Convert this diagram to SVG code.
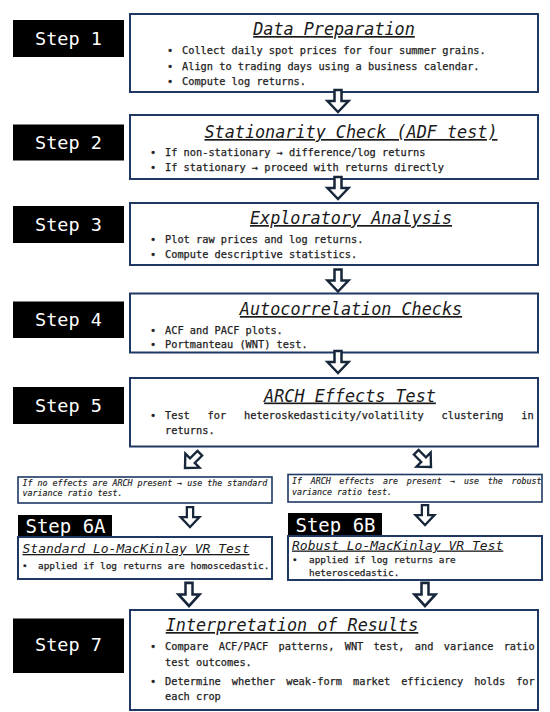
<svg xmlns="http://www.w3.org/2000/svg" xmlns:xlink="http://www.w3.org/1999/xlink" width="550" height="712" viewBox="0 0 550 712">
<style>
.bg{fill:#ffffff}
.box{fill:#ffffff;stroke:#1f3864;stroke-width:2}
.lbl{fill:#000000}
.lt{font-family:"DejaVu Sans Mono","Liberation Mono",monospace;fill:#ffffff;text-anchor:middle}
.ttl{font-family:"DejaVu Sans Mono","Liberation Mono",monospace;font-style:italic;fill:#1a1a1a;text-decoration:underline;font-size:16.8px}
.b{font-family:"DejaVu Sans Mono","Liberation Mono",monospace;fill:#222222;stroke:#222222;stroke-width:0.25;font-size:10.3px}
.sm{font-family:"DejaVu Sans Mono","Liberation Mono",monospace;font-style:italic;fill:#222222;stroke:#222222;stroke-width:0.15;font-size:8.3px}
.arr{fill:#ffffff;stroke:#17263a;stroke-width:2.5;stroke-linejoin:miter}
</style>
<defs>
<path id="arr" d="M -3.5 -22 L 3.5 -22 L 3.5 -11 L 10.5 -11 L 0 0 L -10.5 -11 L -3.5 -11 Z"/>
</defs>
<rect class="bg" x="0" y="0" width="550" height="712"/>

<g id="step1">
<rect class="lbl" x="13" y="20" width="111" height="37"/>
<text class="lt" x="68.5" y="44.5" font-size="18.5">Step 1</text>
<rect class="box" x="130" y="14" width="408" height="78"/>
<text class="ttl" x="334" y="35" text-anchor="middle">Data Preparation</text>
<text class="b" x="167" y="54">•</text><text class="b" x="182" y="54">Collect daily spot prices for four summer grains.</text>
<text class="b" x="167" y="69.5">•</text><text class="b" x="182" y="69.5">Align to trading days using a business calendar.</text>
<text class="b" x="167" y="85">•</text><text class="b" x="182" y="85">Compute log returns.</text>
</g>

<g id="step2">
<rect class="lbl" x="13" y="124.5" width="111" height="36"/>
<text class="lt" x="68.5" y="148.5" font-size="18.5">Step 2</text>
<rect class="box" x="130" y="115" width="408" height="64"/>
<text class="ttl" x="351" y="138" text-anchor="middle">Stationarity Check (ADF test)</text>
<text class="b" x="150" y="156">•</text><text class="b" x="165" y="156">If non-stationary → difference/log returns</text>
<text class="b" x="150" y="170.5">•</text><text class="b" x="165" y="170.5">If stationary → proceed with returns directly</text>
</g>

<g id="step3">
<rect class="lbl" x="13" y="206" width="111" height="37"/>
<text class="lt" x="68.5" y="230.5" font-size="18.5">Step 3</text>
<rect class="box" x="130" y="203" width="408" height="62"/>
<text class="ttl" x="351" y="224" text-anchor="middle">Exploratory Analysis</text>
<text class="b" x="150" y="242.5">•</text><text class="b" x="165" y="242.5">Plot raw prices and log returns.</text>
<text class="b" x="150" y="258">•</text><text class="b" x="165" y="258">Compute descriptive statistics.</text>
</g>

<g id="step4">
<rect class="lbl" x="13" y="301.5" width="111" height="36.5"/>
<text class="lt" x="68.5" y="326" font-size="18.5">Step 4</text>
<rect class="box" x="130" y="293.5" width="408" height="59"/>
<text class="ttl" x="351" y="315" text-anchor="middle">Autocorrelation Checks</text>
<text class="b" x="150" y="334">•</text><text class="b" x="165" y="334">ACF and PACF plots.</text>
<text class="b" x="150" y="348">•</text><text class="b" x="165" y="348">Portmanteau (WNT) test.</text>
</g>

<g id="step5">
<rect class="lbl" x="13" y="387" width="111" height="37"/>
<text class="lt" x="68.5" y="411.5" font-size="18.5">Step 5</text>
<rect class="box" x="130" y="378" width="408" height="68.5"/>
<text class="ttl" x="350" y="401.5" text-anchor="middle">ARCH Effects Test</text>
<text class="b" x="150" y="419">•</text><text class="b" x="165" y="419" word-spacing="11.6">Test for heteroskedasticity/volatility clustering in</text>
<text class="b" x="165" y="434">returns.</text>
</g>

<g id="noarch">
<rect class="box" x="18" y="477" width="254" height="26" style="stroke-width:1.6"/>
<text class="sm" x="22.5" y="485.5">If no effects are ARCH present → use the standard</text>
<text class="sm" x="22.5" y="496">variance ratio test.</text>
</g>

<g id="arch">
<rect class="box" x="288" y="474.5" width="254" height="27.5" style="stroke-width:1.6"/>
<text class="sm" x="292" y="483.5" word-spacing="3.7">If ARCH effects are present → use the robust</text>
<text class="sm" x="292" y="494.5">variance ratio test.</text>
</g>

<g id="step6a">
<rect class="lbl" x="18" y="515" width="94" height="22"/>
<text class="lt" x="65.5" y="533" font-size="19">Step 6A</text>
<rect class="box" x="18" y="537" width="254" height="42"/>
<text class="ttl" x="22.5" y="553" style="font-size:13px">Standard Lo-MacKinlay VR Test</text>
<text class="b" x="22" y="569" style="font-size:9.4px">•</text><text class="b" x="38" y="569" style="font-size:9.4px">applied if log returns are homoscedastic.</text>
</g>

<g id="step6b">
<rect class="lbl" x="288" y="513" width="94" height="22.5"/>
<text class="lt" x="335.5" y="531.5" font-size="19">Step 6B</text>
<rect class="box" x="288" y="536" width="254" height="44"/>
<text class="ttl" x="292" y="549.5" style="font-size:13px">Robust Lo-MacKinlay VR Test</text>
<text class="b" x="292" y="563" style="font-size:9.4px">•</text><text class="b" x="309" y="563" style="font-size:9.4px">applied if log returns are</text>
<text class="b" x="309" y="576" style="font-size:9.4px">heteroscedastic.</text>
</g>

<g id="step7">
<rect class="lbl" x="13" y="618.5" width="111" height="54.5"/>
<text class="lt" x="68.5" y="651" font-size="18.5">Step 7</text>
<rect class="box" x="130" y="610" width="408" height="100"/>
<text class="ttl" x="292" y="631" text-anchor="middle">Interpretation of Results</text>
<text class="b" x="150" y="650">•</text><text class="b" x="165" y="650" word-spacing="4.1">Compare ACF/PACF patterns, WNT test, and variance ratio</text>
<text class="b" x="165" y="666">test outcomes.</text>
<text class="b" x="150" y="684.5">•</text><text class="b" x="165" y="684.5" word-spacing="4.8">Determine whether weak-form market efficiency holds for</text>
<text class="b" x="165" y="700">each crop</text>
</g>

<g id="connectors">
<use xlink:href="#arr" class="arr" transform="translate(338,112)"/>
<use xlink:href="#arr" class="arr" transform="translate(338,199)"/>
<use xlink:href="#arr" class="arr" transform="translate(338,291.5)"/>
<use xlink:href="#arr" class="arr" transform="translate(338,373)"/>
<use xlink:href="#arr" class="arr" transform="translate(185,468) rotate(45) scale(0.95)"/>
<use xlink:href="#arr" class="arr" transform="translate(431,467) rotate(-45) scale(0.95)"/>
<use xlink:href="#arr" class="arr" transform="translate(190,527) scale(0.9)"/>
<use xlink:href="#arr" class="arr" transform="translate(425,525) scale(0.9)"/>
<use xlink:href="#arr" class="arr" transform="translate(189,606) scale(1,1.05)"/>
<use xlink:href="#arr" class="arr" transform="translate(425,606) scale(1,1.05)"/>
</g>
</svg>
